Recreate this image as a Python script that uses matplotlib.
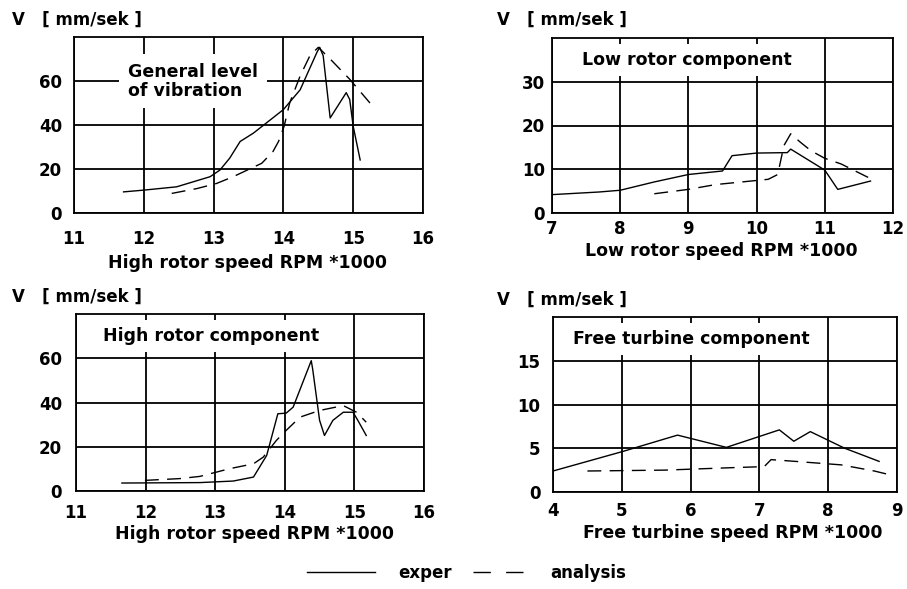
import matplotlib
matplotlib.use("Agg")
import matplotlib.pyplot as plt
from matplotlib.lines import Line2D

plt.rcParams['font.family'] = 'DejaVu Sans'
plt.rcParams['font.weight'] = 'bold'

# ---- data ------------------------------------------------------------------
# general level of vibration (high rotor speed, RPM*1000)
gen_exp_x = [11.71, 12.0, 12.47, 12.95, 13.09, 13.23, 13.38, 13.57, 14.0, 14.24,
             14.48, 14.52, 14.57, 14.67, 14.9, 14.95, 15.0, 15.1]
gen_exp_y = [9.6, 10.4, 11.9, 16.5, 19.5, 24.9, 32.5, 36.3, 47.0, 56.0,
             73.0, 75.3, 71.5, 43.2, 54.7, 51.6, 39.4, 24.1]
gen_ana_x = [12.4, 12.76, 13.04, 13.28, 13.69, 13.85, 13.93, 14.01, 14.09, 14.24,
             14.38, 14.5, 14.67, 14.95, 15.24]
gen_ana_y = [8.9, 11.1, 13.4, 16.5, 22.6, 27.9, 32.5, 39.4, 50.0, 62.3,
             71.5, 75.3, 70.0, 60.8, 50.0]

# low rotor component
low_exp_x = [7.0, 7.69, 8.0, 8.5, 9.0, 9.5, 9.64, 10.0, 10.45, 10.5, 11.0, 11.19, 11.67]
low_exp_y = [4.2, 4.8, 5.2, 7.1, 8.8, 9.6, 13.1, 13.7, 13.8, 14.6, 9.8, 5.4, 7.3]
low_ana_x = [8.5, 9.0, 9.4, 10.17, 10.31, 10.4, 10.5, 10.64, 10.8, 11.0, 11.24, 11.64]
low_ana_y = [4.4, 5.4, 6.5, 7.7, 8.8, 15.4, 18.1, 16.2, 14.2, 12.5, 11.2, 8.1]

# high rotor component
high_exp_x = [11.66, 12.78, 13.26, 13.55, 13.74, 13.9, 14.02, 14.12, 14.38, 14.4,
              14.5, 14.57, 14.69, 14.84, 14.98, 15.05, 15.17]
high_exp_y = [3.6, 3.8, 4.5, 6.3, 16.1, 34.9, 35.2, 37.9, 58.9, 55.2,
              31.9, 25.1, 31.9, 35.6, 35.6, 31.9, 25.1]
high_ana_x = [11.99, 12.49, 12.78, 13.21, 13.55, 13.69, 13.88, 14.02, 14.22, 14.5,
              14.84, 15.03, 15.17]
high_ana_y = [4.8, 5.6, 6.6, 10.1, 12.3, 15.3, 22.9, 27.4, 33.4, 36.4,
              38.6, 35.6, 31.1]

# free turbine component
free_exp_x = [4.0, 5.0, 5.81, 6.52, 7.29, 7.5, 7.74, 8.24, 8.74]
free_exp_y = [2.4, 4.6, 6.5, 5.1, 7.1, 5.8, 6.9, 5.0, 3.5]
free_ana_x = [4.5, 5.62, 6.67, 7.07, 7.17, 7.52, 8.19, 8.67, 8.88]
free_ana_y = [2.4, 2.5, 2.8, 2.9, 3.7, 3.5, 3.1, 2.4, 2.0]

panels = [
    dict(title="General level\nof vibration", xlabel="High rotor speed RPM *1000",
         xlim=(11, 16), xticks=[11, 12, 13, 14, 15, 16],
         ylim=(0, 80), yticks=[0, 20, 40, 60],
         exp=(gen_exp_x, gen_exp_y), ana=(gen_ana_x, gen_ana_y)),
    dict(title="Low rotor component", xlabel="Low rotor speed RPM *1000",
         xlim=(7, 12), xticks=[7, 8, 9, 10, 11, 12],
         ylim=(0, 40), yticks=[0, 10, 20, 30],
         exp=(low_exp_x, low_exp_y), ana=(low_ana_x, low_ana_y)),
    dict(title="High rotor component", xlabel="High rotor speed RPM *1000",
         xlim=(11, 16), xticks=[11, 12, 13, 14, 15, 16],
         ylim=(0, 80), yticks=[0, 20, 40, 60],
         exp=(high_exp_x, high_exp_y), ana=(high_ana_x, high_ana_y)),
    dict(title="Free turbine component", xlabel="Free turbine speed RPM *1000",
         xlim=(4, 9), xticks=[4, 5, 6, 7, 8, 9],
         ylim=(0, 20), yticks=[0, 5, 10, 15],
         exp=(free_exp_x, free_exp_y), ana=(free_ana_x, free_ana_y)),
]

# ---- layout (pixel-derived) ------------------------------------------------
W, H = 907, 589
rects = [(74, 37, 423, 213), (552, 38, 893, 213), (76, 314, 424, 491), (553, 317, 897, 492)]
ypads = [8.5, 5.0, 10.0, 9.0]
xpads = [12.0, 5.0, 9.5, 7.0]
label_xy = [(0.497, -0.233), (0.496, -0.165), (0.514, -0.192), (0.522, -0.183)]
title_xy = [(0.155, 0.852), (0.088, 0.874), (0.078, 0.876), (0.058, 0.874)]
vlabel_px = [(12, 25), (497, 25), (12, 302), (497, 305)]

fig = plt.figure(figsize=(W / 100, H / 100), dpi=100)
fig.patch.set_facecolor("white")

for i, p in enumerate(panels):
    l, t, r, b = rects[i]
    ax = fig.add_axes([l / W, 1 - b / H, (r - l) / W, (b - t) / H])
    ax.set_xlim(*p["xlim"])
    ax.set_ylim(*p["ylim"])
    ax.set_xticks(p["xticks"])
    ax.set_yticks(p["yticks"])
    ax.grid(True, color="black", linewidth=1.3)
    ax.set_axisbelow(True)
    for s in ax.spines.values():
        s.set_linewidth(1.3)
    ax.tick_params(axis="both", length=0, labelsize=12)
    ax.tick_params(axis="x", pad=xpads[i])
    ax.tick_params(axis="y", pad=ypads[i])

    ax.plot(*p["exp"], color="black", linewidth=1.0, zorder=3)
    ax.plot(*p["ana"], color="black", linewidth=1.0, dashes=(10, 6), zorder=3)

    ax.set_xlabel(p["xlabel"], fontsize=12.5, fontweight="bold")
    ax.xaxis.set_label_coords(*label_xy[i])

    tx, ty = title_xy[i]
    ax.text(tx, ty, p["title"], transform=ax.transAxes, fontsize=12.5,
            fontweight="bold", ha="left", va="top" if i == 0 else "center",
            linespacing=1.05, zorder=2.8,
            bbox=dict(facecolor="white", edgecolor="none",
                      boxstyle="square,pad=0.5" if i == 0 else "square,pad=0.42"))

    vx, vy = vlabel_px[i]
    fig.text(vx / W, 1 - vy / H, "V   [ mm/sek ]", fontsize=12, fontweight="bold",
             ha="left", va="baseline")

# legend at the bottom (two pieces, the key lengths differ)
h_exp = Line2D([], [], color="black", linewidth=1.0)
h_ana = Line2D([], [], color="black", linewidth=1.0, dashes=(12.5, 11))
fig.legend([h_exp], ["exper"], loc="center left", frameon=False,
           bbox_to_anchor=(307 / W, 1 - 573 / H), fontsize=12,
           handlelength=4.1, handletextpad=1.38, borderpad=0, borderaxespad=0)
fig.legend([h_ana], ["analysis"], loc="center left", frameon=False,
           bbox_to_anchor=(473 / W, 1 - 573 / H), fontsize=12,
           handlelength=3.0, handletextpad=1.62, borderpad=0, borderaxespad=0)

fig.savefig("out.png", dpi=100, facecolor="white")
